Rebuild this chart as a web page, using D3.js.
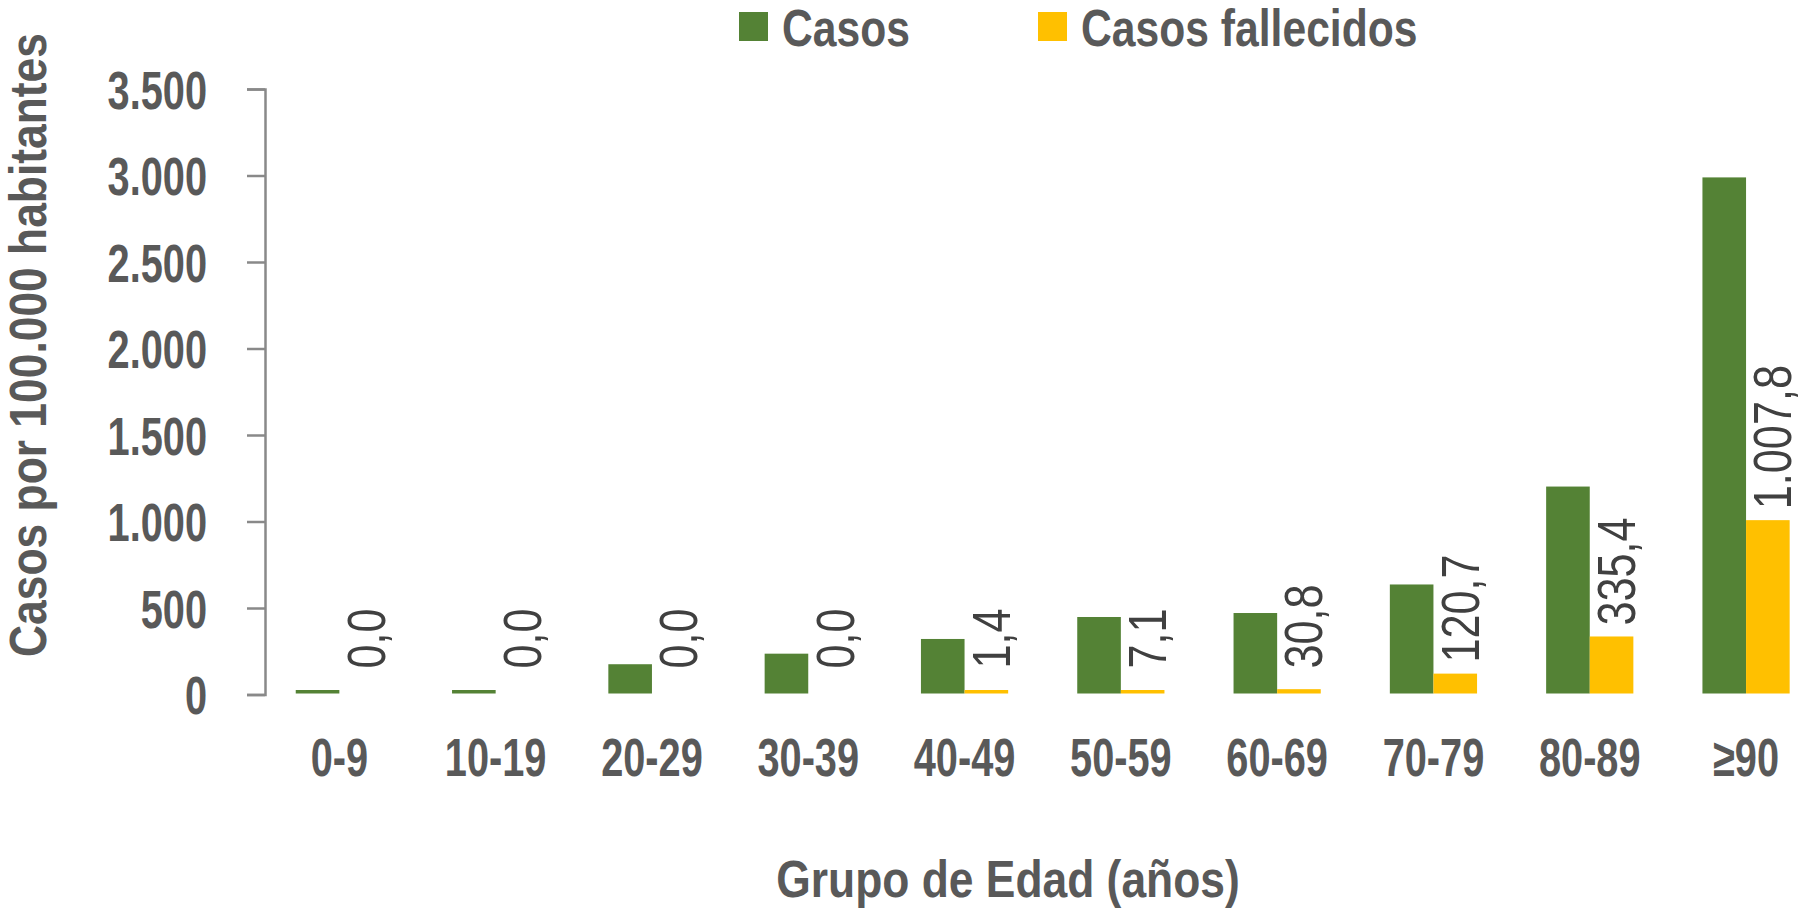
<!DOCTYPE html>
<html>
<head>
<meta charset="utf-8">
<script src="https://cdn.jsdelivr.net/npm/d3@7"></script>
<style>
  html, body { margin: 0; padding: 0; background: #fff; }
  svg { display: block; }
  text { font-family: "Liberation Sans", Arial, sans-serif; }
</style>
</head>
<body>
<svg id="chart" width="1803" height="912"></svg>
<script>
// ---- data ----
const categories = ["0-9", "10-19", "20-29", "30-39", "40-49", "50-59", "60-69", "70-79", "80-89", "\u226590"];
const seriesNames = ["Casos", "Casos fallecidos"];
const casos = [18, 17, 175, 236, 321, 448, 471, 636, 1202, 2989];
const fallecidos = [0.0, 0.0, 0.0, 0.0, 1.4, 7.1, 30.8, 120.7, 335.4, 1007.8];
const yTicks = [0, 500, 1000, 1500, 2000, 2500, 3000, 3500];
const yTitle = "Casos por 100.000 habitantes";
const xTitle = "Grupo de Edad (años)";

// ---- styles ----
const colors = ["#548235", "#FFC000"];
const textGray = "#595959";
const labelGray = "#404040";
const axisGray = "#898989";

const locale = d3.formatLocale({ decimal: ",", thousands: ".", grouping: [3], currency: ["", "\u20ac"] });
const fmtTick = locale.format(",d");
const fmtVal = locale.format(",.1f");

const svg = d3.select("#chart");

const y = d3.scaleLinear().domain([0, 3500]).range([694.5, 89]);
const x0 = d3.scaleBand().domain(categories).range([261.2, 1824.2])
  .paddingInner(0.442).paddingOuter(0.221);
const x1 = d3.scaleBand().domain(seriesNames).range([0, x0.bandwidth()]);

const rows = categories.map((c, i) => ({ cat: c, vals: [casos[i], fallecidos[i]] }));

// ---- bars ----
const groups = svg.append("g").selectAll("g").data(rows).join("g")
  .attr("transform", d => `translate(${x0(d.cat)},0)`);

groups.selectAll("rect")
  .data(d => d.vals.map((v, k) => ({ v, k })).filter(e => e.v > 0))
  .join("rect")
  .attr("x", e => x1(seriesNames[e.k]))
  .attr("width", x1.bandwidth())
  .attr("y", e => Math.min(y(e.v), y(0) - 4.5))
  .attr("height", e => (y(0) - 1) - Math.min(y(e.v), y(0) - 4.5))
  .attr("fill", e => colors[e.k]);

// ---- value labels (Casos fallecidos) ----
groups.append("text")
  .attr("transform", d => {
    const v = d.vals[1];
    const cx = x1(seriesNames[1]) + x1.bandwidth() / 2 + 23.5;
    const sy = Math.min(y(v) - 11, y(0) - 26);
    return `translate(${cx},${sy}) rotate(-90) scale(0.8,1)`;
  })
  .attr("text-anchor", "start")
  .attr("font-size", 54)
  .attr("fill", labelGray)
  .text(d => fmtVal(d.vals[1]));

// ---- y axis ----
const yAxis = svg.append("g")
  .attr("transform", "translate(265,0)")
  .call(d3.axisLeft(y).tickValues(yTicks).tickFormat(fmtTick).tickSize(18).tickSizeOuter(18).tickPadding(40));
yAxis.select(".domain").attr("stroke", axisGray).attr("stroke-width", 2.5);
yAxis.selectAll(".tick line").attr("stroke", axisGray).attr("stroke-width", 2.5);
yAxis.selectAll(".tick text")
  .attr("x", -58 / 0.75)
  .attr("dy", "0.36em")
  .attr("transform", "scale(0.75,1)")
  .attr("font-size", 53)
  .attr("font-weight", "bold")
  .attr("font-family", "'Liberation Sans', Arial, sans-serif")
  .attr("fill", textGray);

// ---- x axis ----
const xAxis = svg.append("g")
  .attr("transform", `translate(0,${y(0)})`)
  .call(d3.axisBottom(x0).tickSize(0).tickPadding(0));
xAxis.select(".domain").remove();
xAxis.selectAll(".tick text")
  .attr("y", 776 - y(0))
  .attr("dy", 0)
  .attr("transform", "scale(0.75,1)")
  .attr("x", 0)
  .attr("font-size", 53)
  .attr("font-weight", "bold")
  .attr("font-family", "'Liberation Sans', Arial, sans-serif")
  .attr("fill", textGray);
xAxis.selectAll(".tick").attr("transform", d => `translate(${x0(d) + x0.bandwidth() / 2},0)`);

// ---- axis titles ----
svg.append("text")
  .attr("transform", "translate(1008,897) scale(0.87,1)")
  .attr("text-anchor", "middle")
  .attr("font-size", 51)
  .attr("font-weight", "bold")
  .attr("fill", textGray)
  .text(xTitle);

svg.append("text")
  .attr("transform", "translate(46,345) rotate(-90) scale(0.87,1)")
  .attr("text-anchor", "middle")
  .attr("font-size", 51)
  .attr("font-weight", "bold")
  .attr("fill", textGray)
  .text(yTitle);

// ---- legend ----
const legendX = [739, 1038];
const legend = svg.append("g").selectAll("g").data(seriesNames).join("g")
  .attr("transform", (d, i) => `translate(${legendX[i]},0)`);
legend.append("rect")
  .attr("x", 0).attr("y", 12).attr("width", 29).attr("height", 29)
  .attr("fill", (d, i) => colors[i]);
legend.append("text")
  .attr("transform", "translate(43,46) scale(0.82,1)")
  .attr("font-size", 52)
  .attr("font-weight", "bold")
  .attr("fill", textGray)
  .text(d => d);
</script>
</body>
</html>
